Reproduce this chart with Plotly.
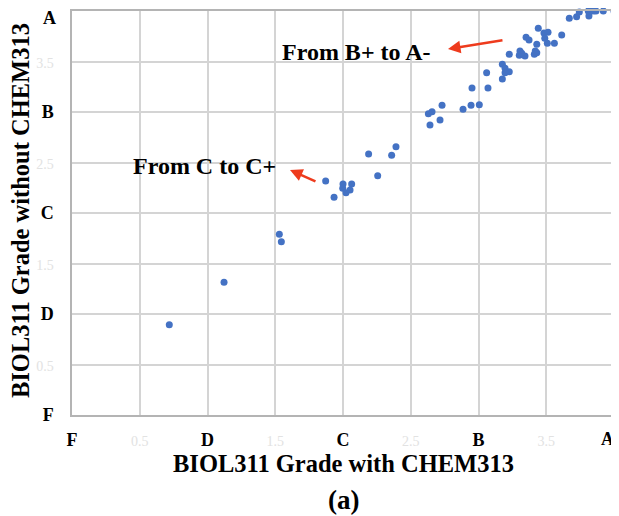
import plotly.graph_objects as go

with_chem = [0.718, 1.122, 1.530, 1.545, 1.872, 1.934, 2.000, 2.064, 1.998, 2.022, 2.052,
             2.189, 2.256, 2.359, 2.391, 2.642, 2.630, 2.657, 2.716, 2.731, 2.886, 2.945,
             3.006, 2.952, 3.070, 3.060, 3.176, 3.176, 3.196, 3.227, 3.196, 3.227, 3.306,
             3.301, 3.343, 3.319, 3.351, 3.373, 3.412, 3.430, 3.419, 3.430, 3.441, 3.483,
             3.513, 3.489, 3.508, 3.560, 3.614, 3.670, 3.724, 3.744, 3.810, 3.830, 3.867,
             3.921, 4.000, 3.815, 3.850]
without_chem = [0.894, 1.314, 1.789, 1.716, 2.317, 2.155, 2.287, 2.287, 2.245, 2.201, 2.228,
                2.584, 2.369, 2.571, 2.657, 2.871, 2.983, 3.003, 2.921, 3.066, 3.027, 3.066,
                3.072, 3.238, 3.238, 3.389, 3.327, 3.472, 3.433, 3.399, 3.389, 3.571, 3.604,
                3.561, 3.554, 3.581, 3.740, 3.713, 3.571, 3.587, 3.604, 3.670, 3.828, 3.782,
                3.789, 3.730, 3.680, 3.680, 3.762, 3.928, 3.944, 3.990, 4.000, 4.000, 4.000,
                4.000, 4.000, 3.950, 4.000]

tick_vals = [0, 0.5, 1, 1.5, 2, 2.5, 3, 3.5, 4]
tick_labels = ["F", "0.5", "D", "1.5", "C", "2.5", "B", "3.5", "A"]

def fmt(lbl):
    if lbl[0].isalpha():
        return "<b>" + lbl + "</b>"
    return "<span style='color:#e2e2e2;font-size:14px'>" + lbl + "</span>"

# the top grade label sits at the plot's corner; it is drawn nudged inward (as in the reference)
inner_vals = tick_vals[:-1]
inner_text = [fmt(t) for t in tick_labels[:-1]]
top_label = fmt(tick_labels[-1])
SERIF = "Liberation Serif"

fig = go.Figure()
fig.add_trace(go.Scatter(x=with_chem, y=without_chem, mode="markers",
                         marker=dict(color="#4472C4", size=7), showlegend=False,
                         cliponaxis=False))

axis_common = dict(range=[0, 4], tickvals=inner_vals, ticktext=inner_text, automargin=False,
                   showgrid=True, gridcolor="#d4d4d4", gridwidth=1.5,
                   showline=True, linecolor="#b4b4b4", linewidth=1.5, mirror=True,
                   zeroline=False, ticks="", ticklabeloverflow="allow",
                   tickfont=dict(family=SERIF, size=18, color="black"))

fig.update_xaxes(**axis_common, ticklabelstandoff=8)
fig.update_yaxes(**axis_common, ticklabelstandoff=13)

tick_font = dict(family=SERIF, size=18, color="black")
title_font = dict(family=SERIF, size=24.5, color="black")
ann_font = dict(family=SERIF, size=24, color="black")
arrow_color = "#EE3B1D"
fig.update_layout(
    width=611, height=508,
    margin=dict(l=64, r=5, t=3, b=101),
    plot_bgcolor="white", paper_bgcolor="white",
    annotations=[
        dict(x=0, y=tick_vals[-1], xref="paper", yref="y", text=top_label,
             showarrow=False, font=tick_font, xanchor="right", yanchor="middle",
             xshift=-14, yshift=-7),
        dict(x=tick_vals[-1], y=0, xref="x", yref="paper", text=top_label,
             showarrow=False, font=tick_font, xanchor="center", yanchor="middle",
             xshift=-7, yshift=-24),
        dict(x=0.5, y=-0.121, xref="paper", yref="paper",
             text="<b>BIOL311 Grade with CHEM313</b>", showarrow=False, font=title_font,
             xanchor="center", yanchor="middle"),
        dict(x=-0.094, y=0.505, xref="paper", yref="paper", textangle=-90,
             text="<b>BIOL311 Grade without CHEM313</b>", showarrow=False, font=title_font,
             xanchor="center", yanchor="middle"),
        dict(x=2.096, y=3.594, xref="x", yref="y", text="<b>From B+ to A-</b>",
             showarrow=False, font=ann_font),
        dict(x=0.978, y=2.465, xref="x", yref="y", text="<b>From C to C+</b>",
             showarrow=False, font=ann_font),
        dict(x=2.775, y=3.624, ax=3.188, ay=3.713, xref="x", yref="y", axref="x", ayref="y",
             text="", showarrow=True, arrowhead=2, arrowsize=1, arrowwidth=2.5,
             arrowcolor=arrow_color),
        dict(x=1.609, y=2.426, ax=1.808, ay=2.307, xref="x", yref="y", axref="x", ayref="y",
             text="", showarrow=True, arrowhead=2, arrowsize=1, arrowwidth=2.5,
             arrowcolor=arrow_color),
        dict(x=0.5, y=-0.210, xref="paper", yref="paper", text="<b>(a)</b>",
             showarrow=False, font=dict(family=SERIF, size=27, color="black"),
             xanchor="center", yanchor="middle"),
    ],
)

fig.write_html("out.html")
